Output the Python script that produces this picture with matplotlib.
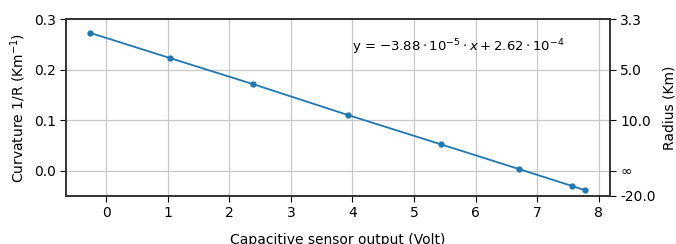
import matplotlib
matplotlib.use("Agg")
import matplotlib.pyplot as plt
import numpy as np

# sensor output (Volt) vs curvature (1/Km)
volt = [-0.27, 1.03, 2.39, 3.93, 5.44, 6.71, 7.56, 7.78]
curv = [0.273, 0.223, 0.171, 0.110, 0.052, 0.003, -0.030, -0.039]

left_ticks = [0.3, 0.2, 0.1, 0.0]
right_ticks = [0.3, 0.2, 0.1, 0.0, -0.05]
right_labels = ['3.3', '5.0', '10.0', '∞', '-20.0']

fig, ax = plt.subplots(figsize=(6.76, 2.44), dpi=100)
fig.subplots_adjust(left=0.098, right=0.902, top=0.922, bottom=0.197)

ax.plot(volt, curv, color='#1f77b4', marker='o', markersize=3.5, linewidth=1.3)
ax.set_xlim(-0.65, 8.18)
ax.set_ylim(-0.05, 0.3)
ax.set_yticks(left_ticks)
ax.set_xticks(range(0, 9))
ax.grid(True, color='#c8c8c8', linewidth=0.9)
ax.tick_params(labelsize=10, length=4)
ax.set_ylabel('Curvature 1/R (Km$^{-1}$)', fontsize=10)
ax.set_xlabel('Capacitive sensor output (Volt)', fontsize=10, labelpad=9)
ax.text(4.0, 0.236, r'y = $-3.88 \cdot 10^{-5} \cdot x + 2.62 \cdot 10^{-4}$', fontsize=9.5)
for s in ax.spines.values():
    s.set_color('#333333')
    s.set_linewidth(1.2)

ax2 = ax.twinx()
ax2.set_ylim(-0.05, 0.3)
ax2.set_yticks(right_ticks)
ax2.set_yticklabels(right_labels)
ax2.tick_params(labelsize=10, length=4)
ax2.set_ylabel('Radius (Km)', fontsize=10, labelpad=5)
for s in ax2.spines.values():
    s.set_color('#333333')
    s.set_linewidth(1.2)

plt.savefig('out.png', dpi=100)
